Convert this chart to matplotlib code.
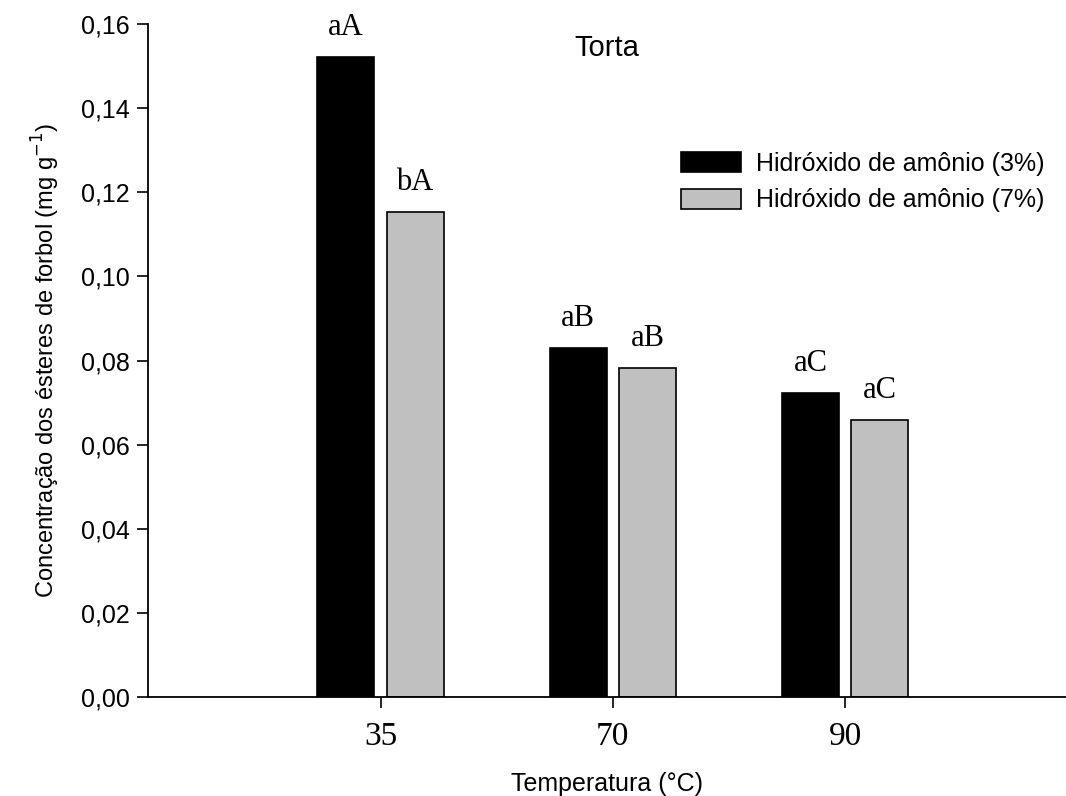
import matplotlib
matplotlib.use("Agg")
import matplotlib.pyplot as plt
import numpy as np

temperatures = ["35", "70", "90"]
conc_3pct = [0.1522, 0.0830, 0.0723]
conc_7pct = [0.1153, 0.0782, 0.0659]
letters_3pct = ["aA", "aB", "aC"]
letters_7pct = ["bA", "aB", "aC"]
legend_labels = ["Hidróxido de amônio (3%)", "Hidróxido de amônio (7%)"]

SANS = "Liberation Sans"
SERIF = "Liberation Serif"


def main():
    fig = plt.figure(figsize=(10.66, 7.96), dpi=100)
    ax = fig.add_axes([0.139, 0.1244, 0.861, 0.8454])

    x = np.arange(1, len(temperatures) + 1)
    width = 0.245
    offset = 0.149

    b1 = ax.bar(x - offset, conc_3pct, width, color="black",
                edgecolor="black", linewidth=1.2, label=legend_labels[0])
    b2 = ax.bar(x + offset, conc_7pct, width, color="#c0c0c0",
                edgecolor="black", linewidth=1.2, label=legend_labels[1])

    # significance letters above each bar
    for bars, letters in ((b1, letters_3pct), (b2, letters_7pct)):
        for rect, txt in zip(bars, letters):
            ax.text(rect.get_x() + rect.get_width() / 2,
                    rect.get_height() + 0.0035, txt, ha="center",
                    va="bottom", fontsize=22, family=SERIF)

    ax.set_xlim(0, 3.95)
    ax.set_ylim(0, 0.16)
    ax.set_xticks(x)
    ax.set_xticklabels(temperatures, family=SERIF, fontsize=24)
    yticks = np.arange(0, 0.161, 0.02)
    ax.set_yticks(yticks)
    ax.set_yticklabels([f"{v:.2f}".replace(".", ",") for v in yticks],
                       family=SANS, fontsize=18)

    for side in ("top", "right"):
        ax.spines[side].set_visible(False)
    for side in ("left", "bottom"):
        ax.spines[side].set_linewidth(1.3)
    ax.tick_params(axis="both", direction="out", length=8, width=1.2)
    ax.tick_params(axis="x", pad=10)
    ax.tick_params(axis="y", pad=5)

    ax.set_xlabel("Temperatura (°C)", family=SANS, fontsize=18, labelpad=14)
    ax.set_ylabel("Concentração dos ésteres de forbol (mg g$^{-1}$)",
                  family=SANS, fontsize=17, labelpad=14)

    ax.text(0.5, 0.985, "Torta", transform=ax.transAxes, ha="center",
            va="top", family=SANS, fontsize=21)

    ax.legend(loc="upper left", bbox_to_anchor=(0.58, 0.81), frameon=False,
              prop={"family": SANS, "size": 18}, handlelength=2.4,
              handleheight=0.85, handletextpad=0.6, labelspacing=0.5,
              borderaxespad=0, borderpad=0)

    fig.savefig("out.png", dpi=100)


if __name__ == "__main__":
    main()
